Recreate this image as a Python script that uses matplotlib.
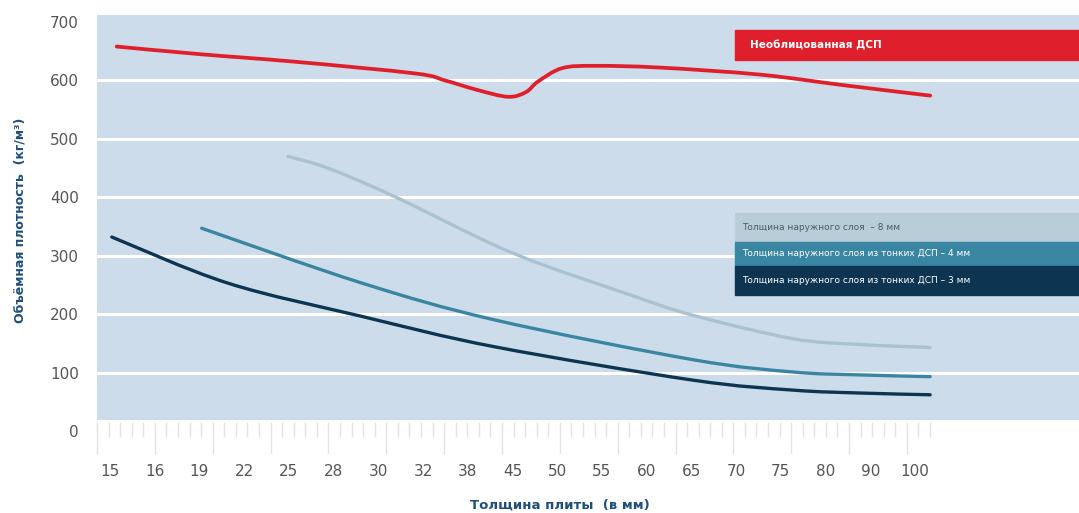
import numpy as np
import matplotlib.pyplot as plt
from matplotlib.patches import Rectangle, PathPatch
from matplotlib.path import Path

plt.rcParams['font.family'] = ['DejaVu Sans']

# x axis categories (board thickness, mm)
thickness_labels = ['15', '16', '19', '22', '25', '28', '30', '32', '38', '45',
                    '50', '55', '60', '65', '70', '75', '80', '90', '100']
y_ticks = [0, 100, 200, 300, 400, 500, 600, 700]

# curves, x given as position along the category axis
red_x = [0.15, 2.0, 4.14, 6.82, 7.49, 8.2, 8.9, 9.3, 9.57, 10.11, 10.85, 12.3, 14.53, 16.39, 18.34]
red_y = [658, 645, 632, 612, 600, 584, 572, 580, 598, 621, 625, 622, 610, 592, 574]

light_x = [3.98, 4.87, 6.37, 8.99, 11.63, 13.04, 15.27, 16.77, 18.34]
light_y = [470, 450, 401, 305, 233, 198, 158, 148, 143]

teal_x = [2.05, 5.64, 8.61, 13.04, 15.27, 16.77, 18.34]
teal_y = [347, 253, 190, 122, 101, 96, 93]

navy_x = [0.04, 2.64, 5.64, 8.61, 13.04, 15.27, 16.77, 18.34]
navy_y = [332, 253, 196, 144, 87, 70, 65, 62]

legend_red = 'Необлицованная ДСП'
legend_rows = ['Толщина наружного слоя  – 8 мм',
               'Толщина наружного слоя из тонких ДСП – 4 мм',
               'Толщина наружного слоя из тонких ДСП – 3 мм']

bg_blue = '#cddcea'
c_red = '#e01f2d'
c_light = '#aac2d0'
c_teal = '#3a86a2'
c_navy = '#0d3551'
c_label = '#1d4f7a'


def smooth_path(xs, ys):
    """Catmull-Rom through the points, drawn as cubic Bezier segments."""
    pts = np.column_stack([xs, ys]).astype(float)
    ext = np.vstack([pts[0], pts, pts[-1]])
    verts = [pts[0]]
    codes = [Path.MOVETO]
    for i in range(1, len(ext) - 2):
        p0, p1, p2, p3 = ext[i - 1], ext[i], ext[i + 1], ext[i + 2]
        verts += [p1 + (p2 - p0) / 6, p2 - (p3 - p1) / 6, p2]
        codes += [Path.CURVE4] * 3
    return Path(verts, codes)


def draw_curve(ax, xs, ys, color, lw):
    patch = PathPatch(smooth_path(xs, ys), fill=False, edgecolor=color, lw=lw,
                      capstyle='round', zorder=3)
    ax.add_patch(patch)


W, H = 1079, 513
fig = plt.figure(figsize=(W / 100, H / 100), dpi=100)
ax = fig.add_axes([97 / W, 1 - 431 / H, 1 - 97 / W, 416 / H])
ax.set_xlim((97 - 110) / 44.72, (1079 - 110) / 44.72)
ax.set_ylim(0, 712)

# blue panel stops a bit above zero, ruler area underneath is white
ax.axhspan(19, 712, color=bg_blue, zorder=0, lw=0)
for v in y_ticks[1:-1]:
    ax.axhline(v, color='white', lw=2.2, zorder=1)

draw_curve(ax, light_x, light_y, c_light, 2.4)
draw_curve(ax, teal_x, teal_y, c_teal, 2.4)
draw_curve(ax, navy_x, navy_y, c_navy, 2.4)
draw_curve(ax, red_x, red_y, c_red, 2.7)

for s in ax.spines.values():
    s.set_visible(False)
ax.set_xticks(range(len(thickness_labels)))
ax.set_xticklabels(thickness_labels)
ax.set_yticks(y_ticks)
ax.tick_params(axis='x', length=0, pad=24, labelsize=11, labelcolor='#555555')
ax.tick_params(axis='y', length=0, pad=13, labelsize=11, labelcolor='#555555')

# decorative ruler below the panel
for k in range(73):
    x = (97 + k * 11.57) / W
    top = 1 - 423 / H
    bot = 1 - (453 if k % 5 == 0 else 436) / H
    fig.add_artist(plt.Line2D([x, x], [bot, top], color='#e2e2e2', lw=1))

# legend boxes
fig.patches.append(Rectangle((735 / W, 1 - 60 / H), (W - 735) / W, 30 / H,
                             transform=fig.transFigure, color=c_red, zorder=5))
fig.text(750 / W, 1 - 45 / H, legend_red, color='white', fontsize=7.5,
         fontweight='bold', va='center', zorder=6)

row_bounds = [(213, 242), (242, 266), (266, 295)]
row_colors = ['#b9cdd9', c_teal, c_navy]
text_colors = ['#4a5a66', 'white', 'white']
for (t0, t1), bc, tc, label in zip(row_bounds, row_colors, text_colors, legend_rows):
    fig.patches.append(Rectangle((735 / W, 1 - t1 / H), (W - 735) / W, (t1 - t0) / H,
                                 transform=fig.transFigure, color=bc, zorder=5))
    fig.text(742 / W, 1 - (t0 + t1) / 2 / H, label, color=tc, fontsize=6.5,
             va='center', zorder=6)

fig.text(560 / W, 1 - 505 / H, 'Толщина плиты  (в мм)', color=c_label,
         fontsize=9.5, fontweight='bold', ha='center', va='center')
fig.text(20 / W, 1 - 220 / H, 'Объёмная плотность  (кг/м³)', color=c_label,
         fontsize=9, fontweight='bold', ha='center', va='center', rotation=90)

fig.savefig('out.png', dpi=100)
